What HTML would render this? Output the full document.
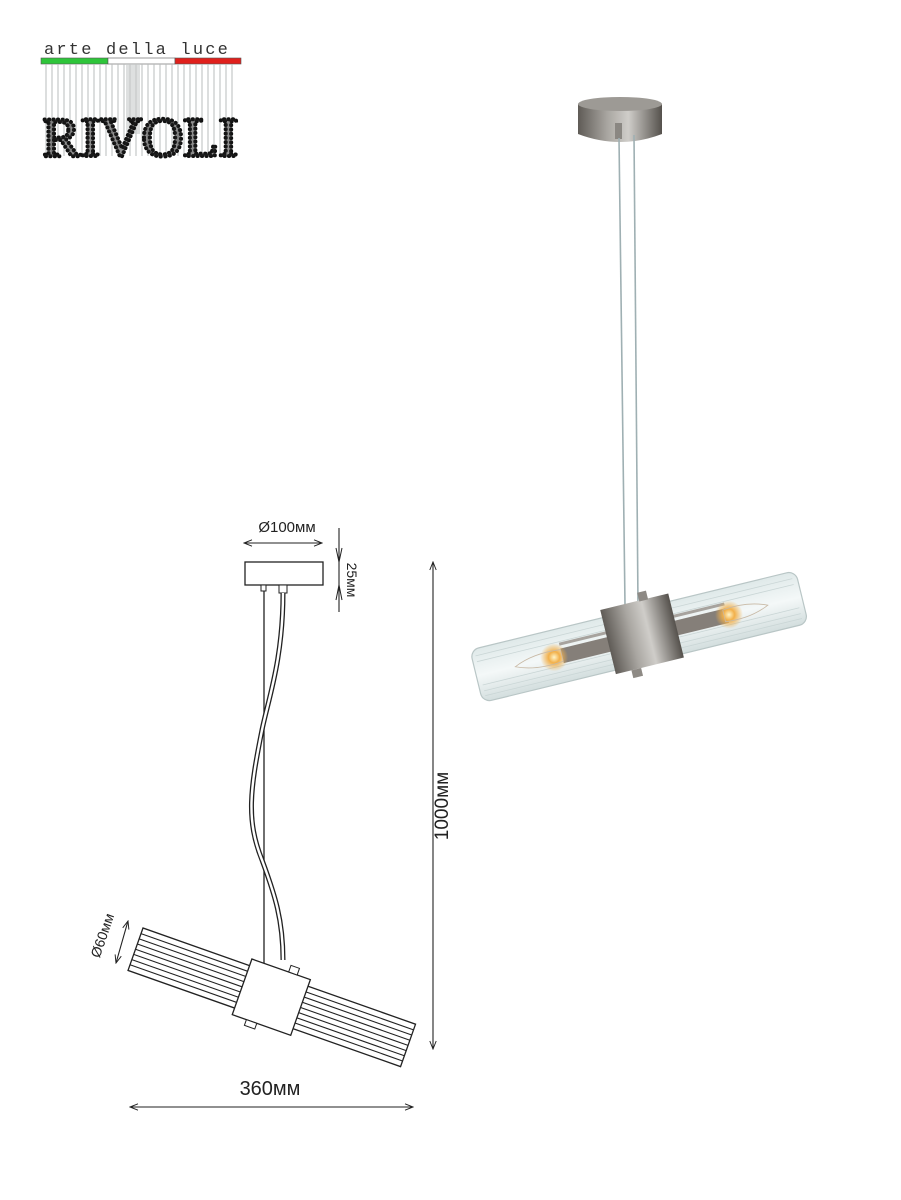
<!DOCTYPE html>
<html><head><meta charset="utf-8"><style>
html,body{margin:0;padding:0;background:#fff;}
svg{display:block;}
</style></head><body>
<svg width="901" height="1200" viewBox="0 0 901 1200" xmlns="http://www.w3.org/2000/svg">
<defs>
<marker id="ar" viewBox="0 0 10 10" refX="10" refY="5" markerWidth="10" markerHeight="8" orient="auto-start-reverse" markerUnits="userSpaceOnUse">
<path d="M0,1 L10,5 L0,9" fill="none" stroke="#222" stroke-width="1.2"/>
</marker>
<linearGradient id="met" x1="0" y1="0" x2="1" y2="0">
<stop offset="0" stop-color="#5f5b56"/><stop offset="0.35" stop-color="#a9a6a1"/><stop offset="0.6" stop-color="#cfcdc9"/><stop offset="1" stop-color="#55514c"/>
</linearGradient>
<linearGradient id="glass" x1="0" y1="0" x2="0" y2="1">
<stop offset="0" stop-color="#dfe9e9"/><stop offset="0.5" stop-color="#f4f8f8"/><stop offset="1" stop-color="#d3dede"/>
</linearGradient>
<radialGradient id="glow"><stop offset="0" stop-color="#fff4c8"/><stop offset="0.4" stop-color="#f2b04a"/><stop offset="1" stop-color="#f2b04a" stop-opacity="0"/></radialGradient>
</defs>

<!-- Logo -->
<text x="44" y="54" font-family="Liberation Mono, monospace" font-size="17" letter-spacing="2.2" fill="#333">arte della luce</text>
<rect x="41" y="58" width="67" height="6" fill="#2ec53a" stroke="#555" stroke-width="0.6"/>
<rect x="108" y="58" width="67" height="6" fill="#fff" stroke="#555" stroke-width="0.6"/>
<rect x="175" y="58" width="66" height="6" fill="#e0201c" stroke="#555" stroke-width="0.6"/>
<g stroke="#b8bcbc" stroke-width="1">
<path d="M46 64V156M52 64V156M58 64V156M64 64V156M70 64V156M76 64V156M82 64V156M88 64V156M94 64V156M100 64V156M106 64V156M112 64V156M118 64V156M124 64V156M130 64V156M136 64V156M142 64V156M148 64V156M154 64V156M160 64V156M166 64V156M172 64V156M178 64V156M184 64V156M190 64V156M196 64V156M202 64V156M208 64V156M214 64V156M220 64V156M226 64V156M232 64V156"/>
</g>
<rect x="126" y="64" width="14" height="70" fill="#c8cccc" opacity="0.6"/>
<text x="140" y="156" text-anchor="middle" font-family="Liberation Serif, serif" font-size="56" fill="none" stroke="#111" stroke-width="4" stroke-dasharray="0.1 4.2" stroke-linecap="round" textLength="196" lengthAdjust="spacingAndGlyphs">RIVOLI</text>
<text x="140" y="156" text-anchor="middle" font-family="Liberation Serif, serif" font-size="56" fill="#222" opacity="0.5" textLength="196" lengthAdjust="spacingAndGlyphs">RIVOLI</text>

<!-- Drawing: canopy -->
<rect x="245" y="562" width="78" height="23" fill="#fff" stroke="#222" stroke-width="1.3"/>
<rect x="261" y="585" width="5" height="6" fill="#fff" stroke="#222"/>
<rect x="279" y="585" width="8" height="8" fill="#fff" stroke="#222"/>
<line x1="264" y1="591" x2="264" y2="966" stroke="#222" stroke-width="1.3"/>
<path d="M283 593 C283 660 268 700 262 730 C250 790 246 820 262 860 C275 895 283 920 283 960" fill="none" stroke="#222" stroke-width="5"/>
<path d="M283 593 C283 660 268 700 262 730 C250 790 246 820 262 860 C275 895 283 920 283 960" fill="none" stroke="#fff" stroke-width="2.4"/>

<!-- dims top -->
<text x="287" y="532" text-anchor="middle" font-family="Liberation Sans, sans-serif" font-size="15" fill="#222">Ø100мм</text>
<line x1="244" y1="543" x2="322" y2="543" stroke="#222" stroke-width="1.1" marker-start="url(#ar)" marker-end="url(#ar)"/>
<line x1="339" y1="528" x2="339" y2="612" stroke="#222" stroke-width="1.1"/>
<path d="M336 548 L339 562 L342 548 M336 600 L339 585 L342 600" fill="none" stroke="#222"/>
<text transform="translate(347,580) rotate(90)" text-anchor="middle" font-family="Liberation Sans, sans-serif" font-size="14" fill="#222">25мм</text>
<line x1="433" y1="562" x2="433" y2="1049" stroke="#222" stroke-width="1.1" marker-start="url(#ar)" marker-end="url(#ar)"/>
<text transform="translate(448,806) rotate(-90)" text-anchor="middle" font-family="Liberation Sans, sans-serif" font-size="19" fill="#222">1000мм</text>

<!-- Tube -->
<g transform="translate(143,928) rotate(19.44)">
<rect x="0" y="0" width="289" height="45" fill="#fff" stroke="#222" stroke-width="1.3"/>
<g stroke="#222" stroke-width="1.1">
<line x1="0" y1="6" x2="289" y2="6"/><line x1="0" y1="11.5" x2="289" y2="11.5"/><line x1="0" y1="17" x2="289" y2="17"/><line x1="0" y1="22.5" x2="289" y2="22.5"/><line x1="0" y1="28" x2="289" y2="28"/><line x1="0" y1="33.5" x2="289" y2="33.5"/><line x1="0" y1="39" x2="289" y2="39"/>
</g>
<rect x="113" y="-7" width="62" height="59" fill="#fff" stroke="#222" stroke-width="1.3"/>
<rect x="152" y="-14" width="9" height="7" fill="#fff" stroke="#222"/>
<rect x="128" y="52" width="11" height="6" fill="#fff" stroke="#222"/>
</g>
<text transform="translate(107,937) rotate(-71)" text-anchor="middle" font-family="Liberation Sans, sans-serif" font-size="14" fill="#222">Ø60мм</text>
<line x1="128" y1="921" x2="116" y2="963" stroke="#222" stroke-width="1.1" marker-start="url(#ar)" marker-end="url(#ar)"/>
<text x="270" y="1095" text-anchor="middle" font-family="Liberation Sans, sans-serif" font-size="20" fill="#222">360мм</text>
<line x1="130" y1="1107" x2="413" y2="1107" stroke="#222" stroke-width="1.1" marker-start="url(#ar)" marker-end="url(#ar)"/>

<!-- Photo -->
<path d="M578 104 L578 134 Q620 150 662 134 L662 104 Z" fill="url(#met)"/>
<ellipse cx="620" cy="104" rx="42" ry="7" fill="#9d9a95"/>
<rect x="615" y="123" width="7" height="16" fill="#8a8782"/>
<line x1="619" y1="138" x2="625" y2="605" stroke="#9fb0b3" stroke-width="1.6"/>
<line x1="634" y1="135" x2="638" y2="605" stroke="#9fb0b3" stroke-width="1.6"/>
<g transform="translate(470,650) rotate(-13.7)">
<rect x="0" y="0" width="335" height="54" rx="9" fill="url(#glass)" stroke="#b9c6c6" stroke-width="1.2"/>
<g stroke="#cad6d6" stroke-width="0.8">
<line x1="4" y1="7" x2="330" y2="7"/><line x1="4" y1="13" x2="330" y2="13"/><line x1="4" y1="37" x2="330" y2="37"/><line x1="4" y1="43" x2="330" y2="43"/><line x1="4" y1="48" x2="330" y2="48"/>
</g>
<rect x="88" y="20" width="170" height="15" fill="#857f79"/>
<rect x="88" y="14" width="170" height="3" fill="#a7a39e"/>
<circle cx="80" cy="27" r="14" fill="url(#glow)"/>
<circle cx="260" cy="27" r="14" fill="url(#glow)"/>
<path d="M40 27 Q60 18 88 21 L88 33 Q60 36 40 27Z" fill="none" stroke="#c8b9a5" stroke-width="0.8"/>
<path d="M300 27 Q280 18 255 21 L255 33 Q280 36 300 27Z" fill="none" stroke="#c8b9a5" stroke-width="0.8"/>
<rect x="136" y="-8" width="70" height="66" fill="url(#met)"/>
<rect x="176" y="-16" width="9" height="9" fill="#8e8a85"/>
<rect x="152" y="58" width="10" height="8" fill="#8e8a85"/>
</g>
</svg>
</body></html>
